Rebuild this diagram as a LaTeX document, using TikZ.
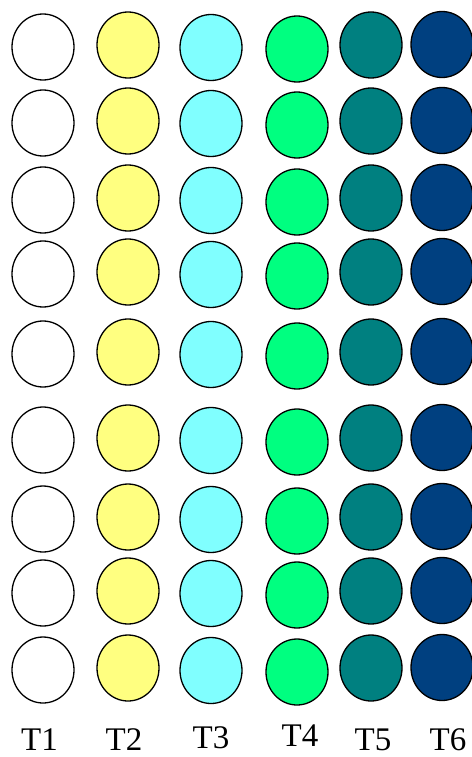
\documentclass[tikz,border=0pt]{standalone}
\usepackage{fontspec}
\setmainfont{Liberation Serif}
\usetikzlibrary{shapes.geometric}
\definecolor{cwhite}{HTML}{FFFFFF}
\definecolor{cyellow}{HTML}{FFFF80}
\definecolor{ccyan}{HTML}{80FFFF}
\definecolor{cgreen}{HTML}{00FF80}
\definecolor{cteal}{HTML}{008080}
\definecolor{cnavy}{HTML}{004080}
\tikzset{
  dot/.style={ellipse, draw=black, line width=1.3pt, minimum width=62pt, minimum height=66pt, inner sep=0pt},
  collabel/.style={anchor=base, inner sep=0pt, font=\fontsize{33}{36}\selectfont}
}
\begin{document}
\begin{tikzpicture}[x=1pt,y=-1pt]
\useasboundingbox[fill=white] (0,0) rectangle (471,757);
\foreach \c/\x/\off/\col/\lab/\lx/\ly in {
  1/43/0/cwhite/T1/39.5/750,
  2/128/-2/cyellow/T2/124/750,
  3/211/0.5/ccyan/T3/211/748,
  4/297/2/cgreen/T4/300/746,
  5/371/-2/cteal/T5/373/750,
  6/442/-2.5/cnavy/T6/448/750}{
  \foreach \r/\y in {1/47,2/123,3/200,4/274,5/354,6/440,7/519,8/593,9/670}{
    \node[dot, fill=\col] (c\c-\r) at (\x,\y+\off) {};
  }
  \node[collabel] (t\c) at (\lx,\ly) {\lab};
}
\end{tikzpicture}
\end{document}
